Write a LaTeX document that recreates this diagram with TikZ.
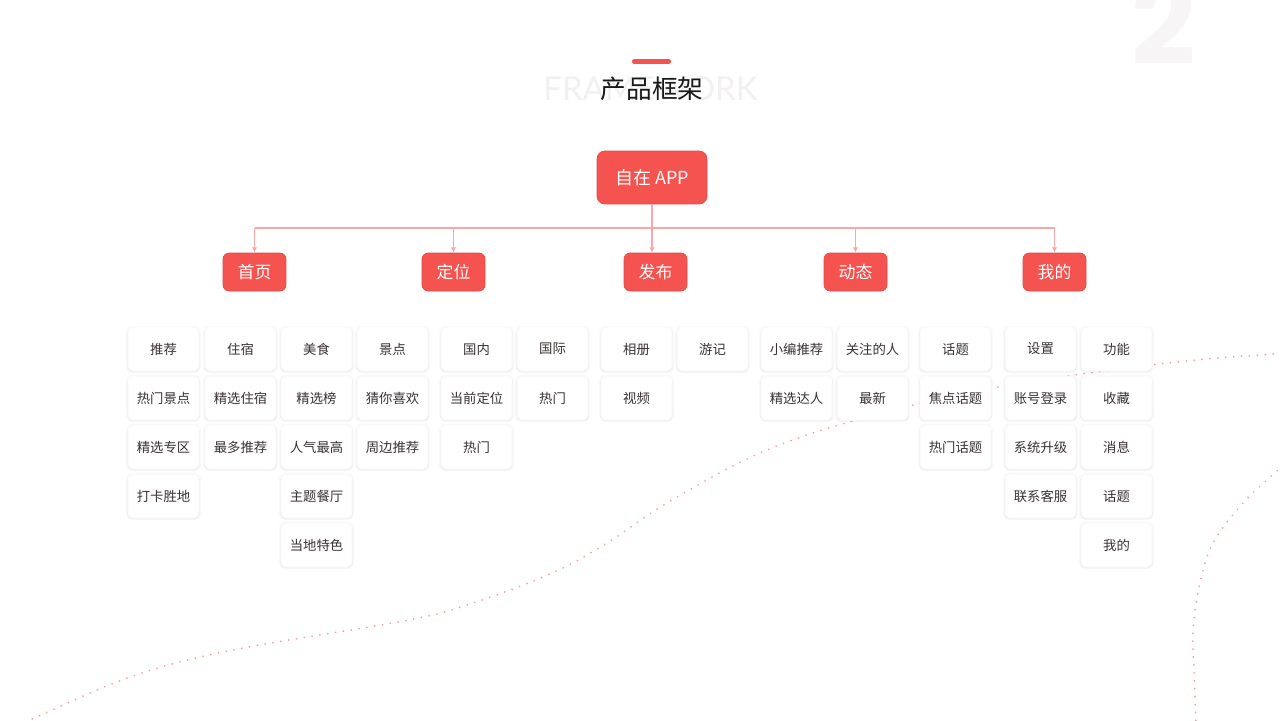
\documentclass[tikz,border=0pt]{standalone}
\usepackage{fontspec}
\setmainfont{Noto Sans CJK SC}
\newfontfamily\numfont{Poppins}[UprightFont={* Bold}]
\newfontfamily\latinfont{Lato}
\usetikzlibrary{positioning}
\usetikzlibrary{shadows}
\usetikzlibrary{arrows.meta}
\usepackage{xcolor}

\definecolor{appred}{HTML}{F5534F}
\definecolor{linkpink}{HTML}{F8A8A8}
\definecolor{cardtext}{HTML}{3A3232}
\definecolor{ghost}{HTML}{F3F0F0}
\definecolor{dotred}{HTML}{F37B7B}

\tikzset
  {
    rootbox/.style=  {fill=appred, draw=appred!92!black, line width=0.4pt, rounded corners=4.5pt,
                      minimum width=2.2cm, minimum height=1.06cm, inner sep=0pt,
                      text=white, font=\fontsize{10.2pt}{12pt}\selectfont},
    lvlbox/.style=   {fill=appred, draw=appred!92!black, line width=0.4pt, rounded corners=3.5pt,
                      minimum width=1.26cm, minimum height=0.76cm, inner sep=0pt,
                      text=white, font=\fontsize{9.6pt}{11pt}\selectfont},
    cardbox/.style=  {fill=white, draw=black!2.5, line width=0.3pt, rounded corners=3.5pt,
                      minimum width=1.42cm, minimum height=0.88cm, inner sep=0pt,
                      text=cardtext, font=\fontsize{7.6pt}{9pt}\selectfont,
                      general shadow={shadow scale=1.06, opacity=0.02, fill=black},
                      general shadow={shadow scale=1.03, shadow yshift=-0.8pt, opacity=0.03, fill=black}},
    busline/.style=  {draw=linkpink, line width=0.6pt},
    link/.style=     {busline, -{Latex[length=3pt,width=3pt]}},
    dotcurve/.style= {dotred, opacity=0.75, line width=1.1pt, line cap=round,
                      dash pattern=on 0.01pt off 4.5pt}
  }

\begin{document}
\begin{tikzpicture}[x=0.02cm, y=-0.02cm]

\fill[white] (0,0) rectangle (1280,720);
\useasboundingbox (0,0) rectangle (1280,720);

% background curves
\draw[dotcurve] plot[smooth, tension=0.6] coordinates
  {(20,725) (32,719) (133,676) (233,650) (403,621) (467,605) (550,574) (607,543)
   (667,503) (760,453) (860,419) (998,387) (1168,363) (1273,354) (1295,352)};
\draw[dotcurve] plot[smooth, tension=0.6] coordinates
  {(1295,455) (1278,470) (1243,503) (1213,543) (1200,583) (1193,630) (1194,670) (1196,725)};

% page number and title
\node[anchor=base, text=ghost!70!white, font=\numfont\fontsize{64pt}{64pt}\selectfont] (pagenum) at (1164,64) {2};

\node[text=ghost, font=\latinfont\fontsize{18.8pt}{19pt}\selectfont] (ghosttitle) at (650.5,89) {FRAMEWORK};
\node[text=black!90, font=\fontsize{14.6pt}{16pt}\selectfont] (title) at (652,89) {产品框架};
\draw[appred, line width=2.3pt, line cap=round] (634,61.5)--(669,61.5);

% tree
\node[rootbox] (root) at (652,177.5) {自在 APP};

\node[lvlbox] (shouye) at (254.5,272) {首页};
\node[lvlbox] (dingwei) at (453.5,272) {定位};
\node[lvlbox] (fabu) at (655.5,272) {发布};
\node[lvlbox] (dongtai) at (855.5,272) {动态};
\node[lvlbox] (wode) at (1054.5,272) {我的};

\coordinate (bus) at (652,228);
\draw[busline] (root.south)--(bus);
\draw[busline] (shouye.north |- bus)--(wode.north |- bus);
\foreach \n in {shouye,dingwei,dongtai,wode}
\draw[link] (\n.north |- bus)--(\n.north);
\draw[link] (bus)--(bus |- fabu.north);

% cards
{
\foreach \t [count=\i] in {推荐,热门景点,精选专区,打卡胜地}
\node[cardbox] (sy1-\i) at (163.5,300+49*\i) {\t};
\foreach \t [count=\i] in {住宿,精选住宿,最多推荐}
\node[cardbox] (sy2-\i) at (240.5,300+49*\i) {\t};
\foreach \t [count=\i] in {美食,精选榜,人气最高,主题餐厅,当地特色}
\node[cardbox] (sy3-\i) at (316.5,300+49*\i) {\t};
\foreach \t [count=\i] in {景点,猜你喜欢,周边推荐}
\node[cardbox] (sy4-\i) at (392.5,300+49*\i) {\t};
}

{
\foreach \t [count=\i] in {国内,当前定位,热门}
\node[cardbox] (dw1-\i) at (476.5,300+49*\i) {\t};
\foreach \t [count=\i] in {国际,热门}
\node[cardbox] (dw2-\i) at (552.5,300+49*\i) {\t};
}

{
\foreach \t [count=\i] in {相册,视频}
\node[cardbox] (fb1-\i) at (636.5,300+49*\i) {\t};
\node[cardbox] (fb2-1) at (712.5,349) {游记};
}

{
\foreach \t [count=\i] in {小编推荐,精选达人}
\node[cardbox] (dt1-\i) at (796.5,300+49*\i) {\t};
\foreach \t [count=\i] in {关注的人,最新}
\node[cardbox] (dt2-\i) at (872.5,300+49*\i) {\t};
\foreach \t [count=\i] in {话题,焦点话题,热门话题}
\node[cardbox] (dt3-\i) at (955.5,300+49*\i) {\t};
}

{
\foreach \t [count=\i] in {设置,账号登录,系统升级,联系客服}
\node[cardbox] (wd1-\i) at (1040.5,300+49*\i) {\t};
\foreach \t [count=\i] in {功能,收藏,消息,话题,我的}
\node[cardbox] (wd2-\i) at (1116.5,300+49*\i) {\t};
}

\end{tikzpicture}
\end{document}
